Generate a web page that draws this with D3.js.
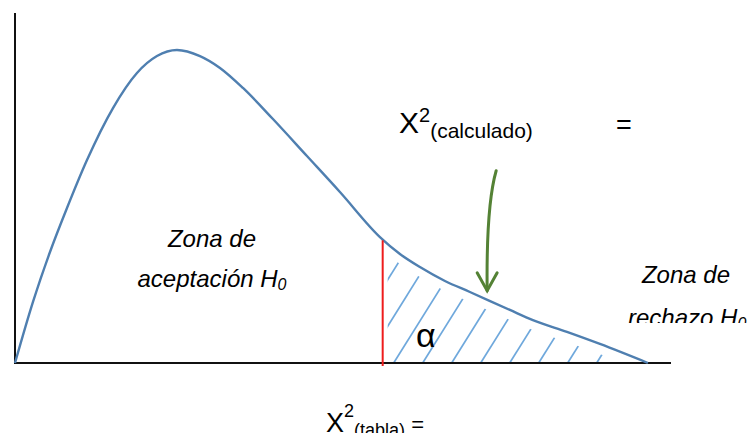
<!DOCTYPE html>
<html>
<head>
	<meta charset="utf-8">
	<style>
		body { margin: 0; background: #fff; }
		svg { display: block; font-family: "Liberation Sans", Arial, sans-serif; }
	</style>
	<script src="https://cdn.jsdelivr.net/npm/d3@7"></script>
</head>
<body>
<div id="chart"></div>
<script>
	// curve (chi-square like density)
	const curveX = [0, 0.222, 0.432, 0.642, 0.889, 1.210, 1.506, 1.753, 2.000, 2.284, 2.531, 2.815, 3.185, 3.605, 4.012, 4.506, 4.753, 5.000, 5.309, 5.617, 6.111, 6.395, 6.815, 7.222, 7.815];
	const curveY = [0, .0350, .0636, .0888, .1163, .1461, .1662, .1759, .1794, .1759, .1691, .1576, .1398, .1186, .0980, .0722, .0625, .0550, .0470, .0407, .0304, .0246, .0178, .0109, 0];
	const critValue = 4.54;   // X2 tabla
	const calcValue = 5.83;   // X2 calculado
	const xMax = 8.1, yMax = 0.2;

	var W = 749, H = 433;
	var x = d3.scaleLinear().domain([0, xMax]).range([15, 671]);
	var y = d3.scaleLinear().domain([0, yMax]).range([363, 14]);

	var pts = curveX.map(function(d, i){ return {x: d, y: curveY[i]}; });
	function densAt(v){
		var i = d3.bisector(function(d){ return d.x; }).right(pts, v);
		var a = pts[i-1], b = pts[i];
		return a.y + (b.y - a.y) * (v - a.x) / (b.x - a.x);
	}

	var svg = d3.select("#chart").append("svg").attr("width", W).attr("height", H);
	var defs = svg.append("defs");

	// hatch clipping: under the curve, a bit below it, right of the critical line
	defs.append("clipPath").attr("id", "clipRight").append("rect")
		.attr("x", x(critValue) + 5).attr("y", 0).attr("width", W).attr("height", y(0));
	defs.append("clipPath").attr("id", "clipArea").append("path")
		.attr("d", d3.area().curve(d3.curveMonotoneX)
			.x(function(d){ return x(d.x); })
			.y0(y(0))
			.y1(function(d){ return y(d.y) + 10; })(pts));
	defs.append("clipPath").attr("id", "clipRech").append("rect")
		.attr("x", 600).attr("y", 250).attr("width", 200).attr("height", 73);

	var slope = 1.6, gap = 29;
	var hatch = svg.append("g").attr("clip-path", "url(#clipRight)")
		.append("g").attr("clip-path", "url(#clipArea)");
	hatch.selectAll("line").data(d3.range(0, 10)).enter().append("line")
		.attr("x1", function(i){ return x(critValue) - 47 + gap * i; })
		.attr("y1", y(0))
		.attr("x2", function(i){ return x(critValue) - 47 + gap * i + 200 / slope; })
		.attr("y2", y(0) - 200)
		.attr("stroke", "#6fa8dc").attr("stroke-width", 1.7);

	// axes
	svg.append("line").attr("x1", x(0)).attr("y1", 13).attr("x2", x(0)).attr("y2", y(0) + 1)
		.attr("stroke", "#111").attr("stroke-width", 2);
	svg.append("line").attr("x1", x(0) - 1).attr("y1", y(0)).attr("x2", x(xMax)).attr("y2", y(0))
		.attr("stroke", "#111").attr("stroke-width", 2);

	// density curve
	svg.append("path").datum(pts)
		.attr("d", d3.line().curve(d3.curveMonotoneX).x(function(d){ return x(d.x); }).y(function(d){ return y(d.y); }))
		.attr("fill", "none").attr("stroke", "#4f7fb0").attr("stroke-width", 2.4);

	// critical value line
	svg.append("line")
		.attr("x1", x(critValue)).attr("x2", x(critValue))
		.attr("y1", y(densAt(critValue)) + 1).attr("y2", y(0) + 3)
		.attr("stroke", "#ee1c1c").attr("stroke-width", 2);

	// arrow to calculated value
	var tx = x(calcValue), ty = y(densAt(calcValue)) - 9;
	var arrow = svg.append("g").attr("stroke", "#548235").attr("stroke-width", 3)
		.attr("fill", "none").attr("stroke-linecap", "round");
	arrow.append("path").attr("d", "M" + (tx + 9) + "," + (ty - 120) + " Q" + (tx - 1) + "," + (ty - 85) + " " + tx + "," + ty);
	arrow.append("path").attr("d", "M" + (tx - 10) + "," + (ty - 18) + " L" + tx + "," + ty + " L" + (tx + 10) + "," + (ty - 18));

	// texts
	var t = svg.append("g").attr("fill", "#000");
	var tc = t.append("text").attr("x", 399).attr("y", 133);
	tc.append("tspan").attr("font-size", 30).text("X");
	tc.append("tspan").attr("font-size", 20).attr("dy", -11).text("2");
	tc.append("tspan").attr("font-size", 21).attr("dy", 16).text("(calculado)");
	t.append("text").attr("x", 616).attr("y", 134).attr("font-size", 27).text("=");

	var tt = t.append("text").attr("x", 326).attr("y", 432);
	tt.append("tspan").attr("font-size", 27).text("X");
	tt.append("tspan").attr("font-size", 18).attr("dy", -15).text("2");
	tt.append("tspan").attr("font-size", 18).attr("dy", 19).text("(tabla)");
	tt.append("tspan").attr("font-size", 22).attr("dy", -4).text(" =");

	t.append("text").attr("x", 212).attr("y", 247).attr("font-size", 24).attr("font-style", "italic")
		.attr("text-anchor", "middle").text("Zona de");
	var ta = t.append("text").attr("x", 212).attr("y", 287).attr("font-size", 24).attr("font-style", "italic")
		.attr("text-anchor", "middle");
	ta.append("tspan").text("aceptación H");
	ta.append("tspan").attr("font-size", 16).attr("dy", 3).text("0");

	t.append("text").attr("x", 686).attr("y", 283).attr("font-size", 24).attr("font-style", "italic")
		.attr("text-anchor", "middle").text("Zona de");
	var tr = t.append("text").attr("x", 628).attr("y", 326).attr("font-size", 24).attr("font-style", "italic")
		.attr("clip-path", "url(#clipRech)");
	tr.append("tspan").text("rechazo H");
	tr.append("tspan").attr("font-size", 16).attr("dy", 3).text("0");

	t.append("text").attr("x", 416).attr("y", 347).attr("font-size", 34).text("α");
</script>
</body>
</html>
